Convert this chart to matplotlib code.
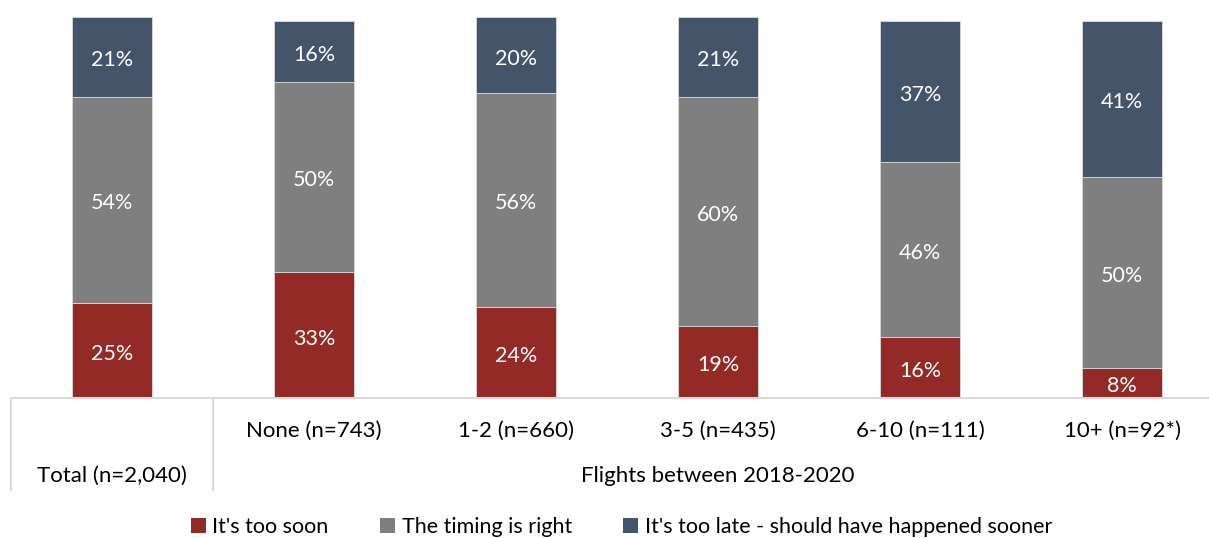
import matplotlib.pyplot as plt
from matplotlib.patches import Patch
import numpy as np

# --- Data ---
categories = ["Total (n=2,040)", "None (n=743)", "1-2 (n=660)", "3-5 (n=435)", "6-10 (n=111)", "10+ (n=92*)"]
too_soon = [25, 33, 24, 19, 16, 8]
timing_right = [54, 50, 56, 60, 46, 50]
too_late = [21, 16, 20, 21, 37, 41]
series_names = ["It's too soon", "The timing is right", "It's too late - should have happened sooner"]
group_label = "Flights between 2018-2020"

colors = ["#942A25", "#7F7F7F", "#44546A"]
plt.rcParams["font.family"] = ["Lato", "DejaVu Sans"]

# --- Figure ---
fig = plt.figure(figsize=(12.09, 5.38), dpi=100)
W, H = 1209, 538
ax = fig.add_axes([11 / W, 140 / H, 1198 / W, 381 / H])

x = np.arange(len(categories))
bottom = np.zeros(len(categories))
for vals, col in zip([too_soon, timing_right, too_late], colors):
    vals = np.array(vals)
    ax.bar(x, vals, width=0.4, bottom=bottom, color=col, edgecolor="#D9D9D9", linewidth=0.6)
    for xi, b, v in zip(x, bottom, vals):
        # labels sit a touch below the segment centre, as in the original
        ax.text(xi, b + v / 2 - 0.9, f"{v}%", ha="center", va="center", color="white", fontsize=15.5)
    bottom += vals

ax.set_xlim(-0.5, -0.5 + 1198 / 202)
ax.set_ylim(0, 100)
for s in ax.spines.values():
    s.set_visible(False)
ax.set_xticks([])
ax.set_yticks([])

# axis line and category separators
trans = ax.get_xaxis_transform()
ax.plot([-0.5, 5.5], [0, 0], color="#D9D9D9", lw=1.5, transform=trans, clip_on=False)
for xs in [-0.5, 0.5]:
    ax.plot([xs, xs], [0, -0.2415], color="#D9D9D9", lw=1.5, transform=trans, clip_on=False)

for xi, lab in zip(x[1:], categories[1:]):
    ax.text(xi, -0.0866, lab, ha="center", va="center", fontsize=16, transform=trans)
ax.text(0, -0.2047, categories[0], ha="center", va="center", fontsize=16, transform=trans)
ax.text(3, -0.2047, group_label, ha="center", va="center", fontsize=16, transform=trans)

handles = [Patch(facecolor=c) for c in colors]
fig.legend(handles, series_names, loc="center", bbox_to_anchor=(0.514, 0.020), ncol=3,
           frameon=False, fontsize=15.5, handlelength=0.7, handleheight=0.7,
           handletextpad=0.3, columnspacing=2.4)

fig.savefig("out.png", dpi=100)
